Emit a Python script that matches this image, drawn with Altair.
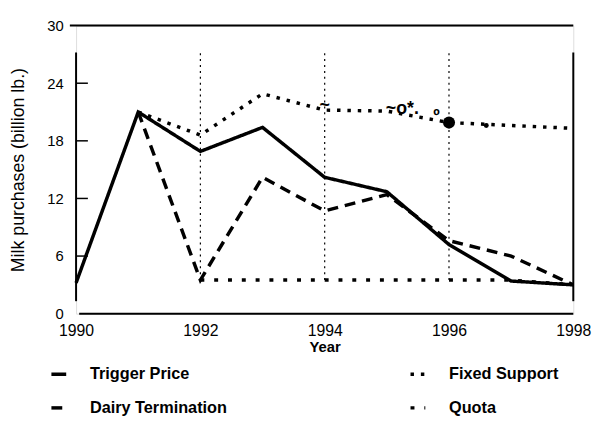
import altair as alt
import pandas as pd

# ---- data ----
YEARS = [1990, 1991, 1992, 1993, 1994, 1995, 1996, 1997, 1998]
TRIGGER = [3.2, 21.0, 16.9, 19.4, 14.2, 12.7, 7.2, 3.4, 3.0]
DAIRY_YEARS = [1991, 1992, 1993, 1994, 1995, 1996, 1997, 1998]
DAIRY = [21.0, 3.5, 14.2, 10.7, 12.4, 7.6, 6.0, 3.0]
FIXED_YEARS = [1991, 1992, 1993, 1994, 1995, 1996, 1997, 1998]
FIXED = [21.0, 18.6, 22.9, 21.2, 21.1, 19.9, 19.6, 19.3]
QUOTA_YEARS = [1992, 1993, 1994, 1995, 1996, 1997, 1998]
QUOTA = [3.5, 3.5, 3.5, 3.5, 3.5, 3.5, 3.0]
SERIES = ["Trigger Price", "Dairy Termination", "Fixed Support", "Quota"]

GUIDE_YEARS = [1992, 1994, 1996]
GUIDE_LOW = 3.5
GUIDE_HIGH = 27.2
X_TICKS = [1990, 1992, 1994, 1996, 1998]
Y_TICKS = [0, 6, 12, 18, 24, 30]
INNER_TICKS = [6, 12, 18, 24]

DOT_X = [1996.0, 1996.6]
DOT_Y = [19.9, 19.6]
DOT_SIZE = [150, 25]

GLYPH_X = [1994.0, 1995.25, 1995.8]
GLYPH_Y = [21.6, 21.3, 20.6]
GLYPH_TEXT = ["~", "~o*.", "º"]

# ---- tables ----
rows = []
for y, v in zip(YEARS, TRIGGER):
    rows.append({"year": y, "value": v, "series": "Trigger Price"})
for y, v in zip(FIXED_YEARS, FIXED):
    rows.append({"year": y, "value": v, "series": "Fixed Support"})
for y, v in zip(DAIRY_YEARS, DAIRY):
    rows.append({"year": y, "value": v, "series": "Dairy Termination"})
for y, v in zip(QUOTA_YEARS, QUOTA):
    rows.append({"year": y, "value": v, "series": "Quota"})
lines_df = pd.DataFrame(rows)

guides_df = pd.DataFrame({"year": GUIDE_YEARS,
                          "lo": [GUIDE_LOW] * len(GUIDE_YEARS),
                          "hi": [GUIDE_HIGH] * len(GUIDE_YEARS)})

frame_h = pd.DataFrame({"x": [1989.9, 1990.05], "x2": [1998, 1998], "y": [30, 0]})
frame_v = pd.DataFrame({"x": [1990, 1998], "y": [1.3, 1.3], "y2": [27.2, 27.2]})
ticks_df = pd.DataFrame({"x": [1990] * len(INNER_TICKS),
                         "x2": [1990.19] * len(INNER_TICKS), "y": INNER_TICKS})
dots_df = pd.DataFrame({"x": DOT_X, "y": DOT_Y, "s": DOT_SIZE})
glyph_df = pd.DataFrame({"x": GLYPH_X, "y": GLYPH_Y, "t": GLYPH_TEXT})

FONT = "Liberation Sans"
xscale = alt.Scale(domain=[1990, 1998], nice=False, zero=False)
yscale = alt.Scale(domain=[0, 30], nice=False, zero=True)

x_enc = alt.X("year:Q", scale=xscale,
              axis=alt.Axis(values=X_TICKS, format="d", title="Year",
                            domain=False, ticks=False, grid=False,
                            labelFlush=False, labelOverlap=False,
                            labelFontSize=16, labelFont=FONT, labelColor="black",
                            labelPadding=9, titleFont=FONT, titleFontSize=15,
                            titleFontWeight="bold", titleColor="black",
                            titlePadding=1))
y_enc = alt.Y("value:Q", scale=yscale,
              axis=alt.Axis(values=Y_TICKS, title="Milk purchases (billion lb.)",
                            domain=False, ticks=False, grid=False,
                            labelFontSize=15, labelFont=FONT, labelColor="black",
                            labelPadding=13, titleFont=FONT, titleFontSize=18,
                            titleFontWeight="normal", titleColor="black",
                            titlePadding=20))

lines = alt.Chart(lines_df).mark_line(color="black", strokeCap="butt",
                                       strokeJoin="miter").encode(
    x=x_enc,
    y=y_enc,
    detail="series:N",
    strokeDash=alt.StrokeDash(
        "series:N",
        scale=alt.Scale(domain=SERIES,
                        range=[[1, 0], [11, 7], [3.5, 7], [4, 10]]),
        legend=alt.Legend(orient="none", legendX=-27, legendY=344,
                          columns=2, columnPadding=178, rowPadding=16,
                          symbolType="stroke", symbolSize=225,
                          symbolStrokeWidth=2.5, symbolStrokeColor="black",
                          labelFont=FONT, labelFontSize=16.5,
                          labelFontWeight="bold", labelColor="black",
                          labelOffset=22, title=None),
    ),
    strokeWidth=alt.StrokeWidth(
        "series:O",
        scale=alt.Scale(domain=SERIES, range=[3.5, 3.5, 3.5, 1.0]),
        legend=None),
    order=alt.Order("year:Q"),
)

guides = alt.Chart(guides_df).mark_rule(color="black", strokeWidth=1.2,
                                         strokeDash=[2, 4]).encode(
    x="year:Q", y="lo:Q", y2="hi:Q")

fh = alt.Chart(frame_h).mark_rule(color="black", strokeWidth=2).encode(
    x="x:Q", x2="x2:Q", y="y:Q")
fv = alt.Chart(frame_v).mark_rule(color="black", strokeWidth=2).encode(
    x="x:Q", y="y:Q", y2="y2:Q")
tk = alt.Chart(ticks_df).mark_rule(color="black", strokeWidth=1.5).encode(
    x="x:Q", x2="x2:Q", y="y:Q")

dots = alt.Chart(dots_df).mark_circle(color="black", opacity=1).encode(
    x="x:Q", y="y:Q",
    size=alt.Size("s:Q", scale=None, legend=None))

glyphs = alt.Chart(glyph_df).mark_text(font=FONT, fontSize=18, fontWeight="bold",
                                        color="black").encode(
    x="x:Q", y="y:Q", text="t:N")

chart = alt.layer(lines, guides, fh, fv, tk, dots, glyphs).properties(
    width=504, height=292,
    autosize=alt.AutoSizeParams(type="none"),
    padding={"left": 69, "top": 15, "right": 22, "bottom": 110},
).configure_view(stroke=None).configure(background="white")

chart.save("out.html", embed_options={"renderer": "svg", "actions": False})
